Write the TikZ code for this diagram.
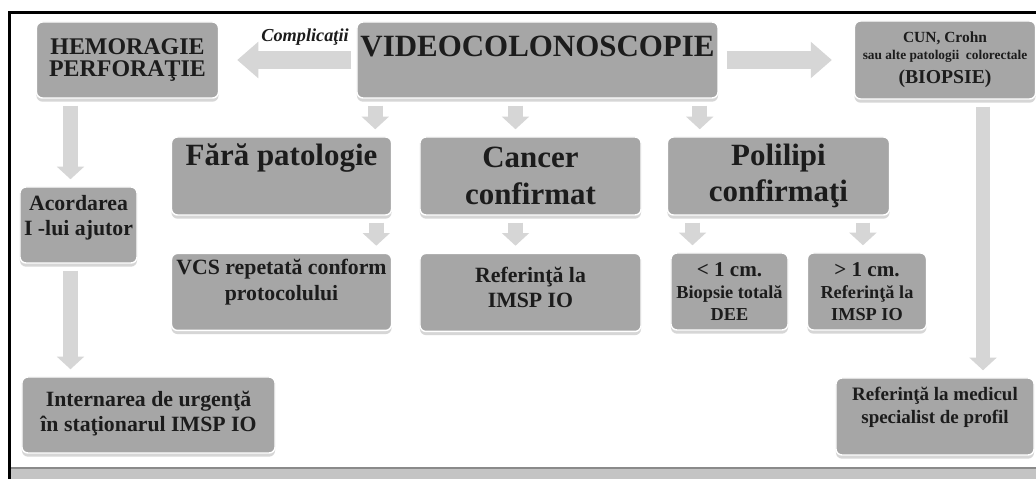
\documentclass[tikz,border=0pt]{standalone}
\usepackage{fontspec}
\setmainfont{Liberation Serif}
\usetikzlibrary{arrows.meta, positioning, calc, shadows}
\definecolor{boxgray}{HTML}{A6A6A6}
\definecolor{arrgray}{HTML}{D6D6D6}
\definecolor{txtgray}{HTML}{1C1C1C}
\definecolor{bandgray}{HTML}{C4C4C4}
\definecolor{bandline}{HTML}{8A8A8A}

\begin{document}
\begin{tikzpicture}[
    x=0.025cm, y=-0.025cm,
    box/.style={draw=white, line width=1pt, rounded corners=4.3pt, fill=boxgray, text=txtgray,
      align=center, inner sep=1pt, font=\bfseries,
      drop shadow={shadow xshift=0pt, shadow yshift=-2.6pt, fill=black!16, opacity=1}},
    big/.style={font=\fontsize{22}{26}\selectfont\bfseries},
    mid/.style={font=\fontsize{15.5}{18}\selectfont\bfseries},
    lift/.style={text depth=#1},
    darr/.style={draw=arrgray, line width=10.5pt, -{Triangle[length=9pt 0 0, width=19pt 0 0]},
      shorten <=5pt, shorten >=5pt},
    harr/.style={draw=arrgray, line width=12.5pt, -{Triangle[length=15pt 0 0, width=25pt 0 0]}}
]
\useasboundingbox (0,0) rectangle (1036,479);
\fill[white] (0,0) rectangle (1036,479);

% frame
\fill[bandgray] (9,468) rectangle (1036,479);
\draw[bandline, line width=1.2pt] (9,468) -- (1036,468);
\draw[line width=1.8pt] (1036,12.5) -- (9.5,12.5) -- (9.5,479);

% top row
\node[box, big, lift=20pt, minimum width=9.025cm, minimum height=1.9cm] (video) at (537.5,60) {VIDEOCOLONOSCOPIE};
\node[box, font=\fontsize{17}{16}\selectfont\bfseries, minimum width=4.55cm, minimum height=1.9cm,
  left=3.425cm of video] (hem) {HEMORAGIE\\PERFORAŢIE};
\node[box, minimum width=4.525cm, minimum height=1.95cm, right=3.375cm of video] (cun)
  {{\fontsize{11}{12}\selectfont CUN, Crohn}\\{\fontsize{9.5}{10}\selectfont sau alte patologii\ \ colorectale}\\[5pt]{\fontsize{14}{15}\selectfont (BIOPSIE)}};
\node[font=\fontsize{13}{15}\selectfont\bfseries\itshape, text=txtgray] (compl) at (305,37) {Complicaţii};

% middle row
\node[box, big, minimum width=5.525cm, minimum height=1.95cm] (cancer) at (530.5,176) {Cancer\\confirmat};
\node[box, big, lift=31pt, minimum width=5.5cm, minimum height=1.95cm, left=0.675cm of cancer] (fara) {Fără patologie};
\node[box, big, minimum width=5.55cm, minimum height=1.95cm, right=0.625cm of cancer] (poli) {Polilipi\\confirmaţi};

% lower row
\node[box, mid, lift=7pt, minimum width=5.525cm, minimum height=1.95cm, below=0.925cm of cancer] (refio) {Referinţă la\\IMSP IO};
\node[box, mid, lift=17.4pt, minimum width=5.5cm, minimum height=1.925cm, below=0.925cm of fara] (vcs) {VCS repetată conform\\protocolului};
\node[box, font=\fontsize{13}{15.5}\selectfont\bfseries, minimum width=2.925cm, minimum height=1.925cm] (mic) at (729.5,291.5)
  {{\fontsize{15}{16}\selectfont < 1 cm.}\\Biopsie totală\\DEE};
\node[box, font=\fontsize{13}{15.5}\selectfont\bfseries, minimum width=2.975cm, minimum height=1.925cm, right=0.45cm of mic] (mare)
  {{\fontsize{15}{16}\selectfont > 1 cm.}\\Referinţă la\\IMSP IO};

% side columns
\node[box, mid, lift=13.4pt, minimum width=2.925cm, minimum height=1.9cm] (acord) at (78.5,225) {Acordarea\\I -lui ajutor};
\node[box, mid, lift=5.7pt, minimum width=6.325cm, minimum height=1.9cm] (intern) at (148.5,415) {Internarea de urgenţă\\în staţionarul IMSP IO};
\node[box, font=\fontsize{13.5}{16.5}\selectfont\bfseries, lift=15.7pt, minimum width=4.95cm, minimum height=1.925cm] (medic) at (935,416.5)
  {Referinţă la medicul\\specialist de profil};

% arrows
\draw[harr, shorten <=3.5pt, shorten >=12.8pt] (video.west) -- (hem.east);
\draw[harr, shorten <=5.7pt, shorten >=15.6pt] (video.east) -- (video.east -| cun.west);

\coordinate (t1) at ($(fara.north east)+(-17,0)$);
\coordinate (t2) at ($(cancer.north)+(-15,0)$);
\coordinate (t3) at ($(poli.north west)+(33,0)$);
\coordinate (t4) at ($(vcs.north east)+(-16,0)$);
\coordinate (t5) at ($(refio.north)+(-15,0)$);
\coordinate (t6) at ($(mic.north)+(-37,0)$);
\coordinate (t7) at ($(mare.north)+(-4,0)$);
\coordinate (t8) at ($(acord.north)+(-8,0)$);
\coordinate (t9) at ($(medic.north)+(48,0)$);

\draw[darr] (video.south -| t1) -- (t1);
\draw[darr] (video.south -| t2) -- (t2);
\draw[darr] (video.south -| t3) -- (t3);
\draw[darr] (fara.south -| t4) -- (t4);
\draw[darr] (cancer.south -| t5) -- (t5);
\draw[darr] (poli.south -| t6) -- (t6);
\draw[darr] (poli.south -| t7) -- (t7);
\draw[darr] (hem.south -| t8) -- (t8);
\draw[darr] (acord.south -| t8) -- (intern.north -| t8);
\draw[darr] (cun.south -| t9) -- (t9);

\end{tikzpicture}
\end{document}
